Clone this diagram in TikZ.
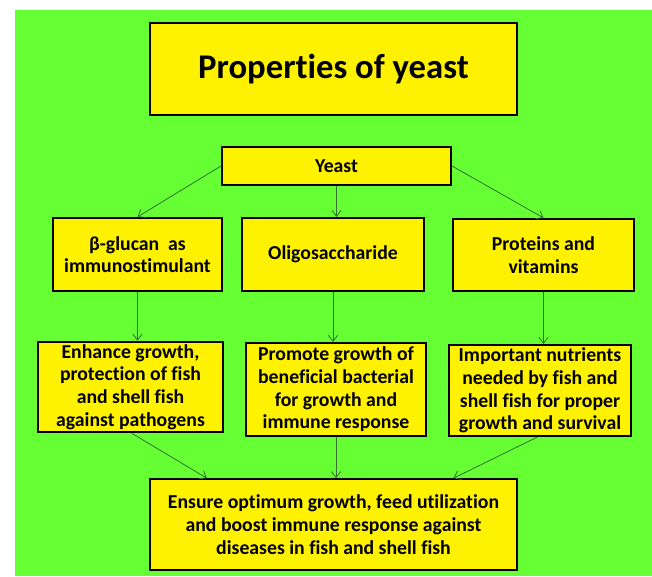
\documentclass[tikz,border=0pt]{standalone}
\usepackage{fontspec}
\setmainfont{Carlito}[Ligatures=NoCommon]
\usetikzlibrary{arrows.meta,positioning,calc}
\definecolor{leafgreen}{RGB}{102,255,51}
\definecolor{arrowgreen}{RGB}{50,115,50}
\tikzset{
    box color/.style={fill=yellow, draw=black},
    prop box/.style={box color, line width=1.6pt, align=center, inner sep=2pt,
        font=\bfseries\fontsize{14.8}{17}\selectfont},
    title box/.style={prop box, font=\bfseries\fontsize{26}{30}\selectfont},
    arr/.style={-{Straight Barb[length=4.5pt,width=7pt]}, color=arrowgreen, line width=0.6pt},
}

\begin{document}
\begin{tikzpicture}[x=0.75pt,y=-0.75pt]
        \useasboundingbox (0,0) rectangle (652,576);
        \fill[leafgreen] (15,10) rectangle (652,576);

        % heading and source
        \node[title box, minimum width=275.25pt, minimum height=69pt] (title) at (333.5,69) {Properties of yeast};
        \node[prop box, minimum width=171.75pt, minimum height=28.5pt] (yeast) at (336.5,166) {Yeast};

        % components
        \node[prop box, minimum width=126.75pt, minimum height=54.75pt] (glucan) at (137.5,254.5)
            {β-glucan\ \ as\\immunostimulant};
        \node[prop box, minimum width=136.5pt, minimum height=54.75pt] (oligo) at (333,254.5)
            {Oligosaccharide};
        \node[prop box, minimum width=135.75pt, minimum height=54pt] (protein) at (543.5,255)
            {Proteins and\\vitamins};

        % effects
        \node[prop box, minimum width=138.75pt, minimum height=67.5pt] (enhance) at (130.5,387)
            {Enhance growth,\\protection of fish\\and shell fish\\against pathogens};
        \node[prop box, minimum width=135pt, minimum height=69.75pt] (promote) at (336,389.5)
            {Promote growth of\\beneficial bacterial\\for growth and\\immune response};
        \node[prop box, minimum width=136.5pt, minimum height=68.25pt] (nutrient) at (540,390.5)
            {Important nutrients\\needed by fish and\\shell fish for proper\\growth and survival};

        % outcome
        \node[prop box, minimum width=275.25pt, minimum height=68.25pt] (ensure) at (333.5,524.75)
            {Ensure optimum growth, feed utilization\\and boost immune response against\\diseases in fish and shell fish};

        \draw[arr] (yeast.west) -- (glucan.north);
        \draw[arr] (yeast.south) -- (yeast.south |- oligo.north);
        \draw[arr] (yeast.east) -- (protein.north);

        \draw[arr] (glucan.south) -- (glucan.south |- enhance.north);
        \draw[arr] (oligo.south) -- (oligo.south |- promote.north);
        \draw[arr] (protein.south) -- (protein.south |- nutrient.north);

        \draw[arr] ([xshift=1pt]enhance.south) -- ([xshift=-95pt]ensure.north);
        \draw[arr] (promote.south) -- (promote.south |- ensure.north);
        \draw[arr] ([xshift=-2pt]nutrient.south) -- ([xshift=90pt]ensure.north);
\end{tikzpicture}
\end{document}
